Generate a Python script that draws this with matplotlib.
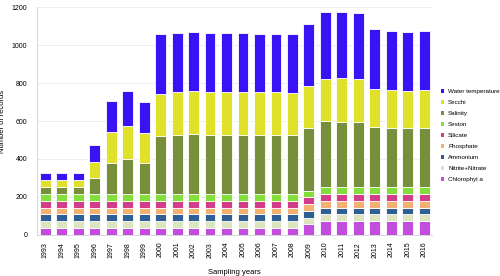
import numpy as np
import matplotlib.pyplot as plt
from matplotlib.patches import Patch

plt.rcParams['font.family'] = ['Liberation Sans', 'DejaVu Sans']

years = [str(y) for y in range(1993, 2017)]

# records per variable and year (bottom of the stack first)
chlorophyll = [36] * 16 + [55] + [72] * 7
nitrite_nitrate = [36] * 16 + [35] + [36] * 7
ammonium = [36] * 24
phosphate = [36] * 24
silicate = [36] * 24
seston = [36] * 16 + [35] + [36] * 7
salinity = [36, 36, 36, 86, 163, 182, 163, 305, 310, 314, 310, 310, 310, 310,
            308, 308, 328, 348, 345, 342, 315, 309, 309, 309]
secchi = [36, 36, 36, 84, 162, 177, 160, 224, 228, 227, 228, 228, 228, 225,
          227, 226, 224, 224, 228, 227, 203, 202, 198, 202]
water_temp = [36, 36, 36, 88, 165, 182, 163, 311, 312, 312, 310, 310, 310, 310,
              308, 308, 328, 351, 349, 347, 315, 310, 309, 310]

series = [
    ("Chlorophyl a", chlorophyll, "#c34ddf"),
    ("Nitrite+Nitrate", nitrite_nitrate, "#dae5c0"),
    ("Ammonium", ammonium, "#2f5e94"),
    ("Phosphate", phosphate, "#f0b172"),
    ("Silicate", silicate, "#d33c88"),
    ("Seston", seston, "#82de38"),
    ("Salinity", salinity, "#778f3a"),
    ("Secchi", secchi, "#e1e02b"),
    ("Water temperature", water_temp, "#3a13f4"),
]

fig = plt.figure(figsize=(5, 2.76), dpi=100)
ax = fig.add_axes([0.074, 0.149, 0.791, 0.825])

x = np.arange(len(years))
bottom = np.zeros(len(years))
handles = []
for name, vals, col in series:
    ax.bar(x, vals, 0.66, bottom=bottom, color=col, edgecolor="white",
           linewidth=0.6, zorder=2)
    bottom += np.array(vals)
    handles.append(Patch(facecolor=col, label=name))

ax.set_xlim(-0.5, len(years) - 0.5)
ax.set_ylim(0, 1200)
ax.set_yticks(range(0, 1201, 200))
ax.set_xticks(x)
ax.set_xticklabels(years, rotation=90, fontsize=5)
ax.tick_params(axis="y", labelsize=5, length=0, pad=7)
ax.tick_params(axis="x", length=0, pad=5)
ax.yaxis.grid(True, color="#d8d8d8", linestyle=(0, (1, 1)), linewidth=0.6, zorder=0)
for s in ["top", "right"]:
    ax.spines[s].set_visible(False)
for s in ["left", "bottom"]:
    ax.spines[s].set_color("#d0d0d0")
    ax.spines[s].set_linewidth(0.6)

ax.set_ylabel("Number of records", fontsize=5.5, labelpad=4)
ax.set_xlabel("Sampling years", fontsize=5.5, labelpad=8)

ax.legend(handles=handles[::-1], loc="center left", bbox_to_anchor=(1.01, 0.435),
          frameon=False, fontsize=4.5, handlelength=0.55, handleheight=0.55,
          handletextpad=0.6, labelspacing=0.95, borderaxespad=0.3)

plt.savefig("out.png", dpi=100)
